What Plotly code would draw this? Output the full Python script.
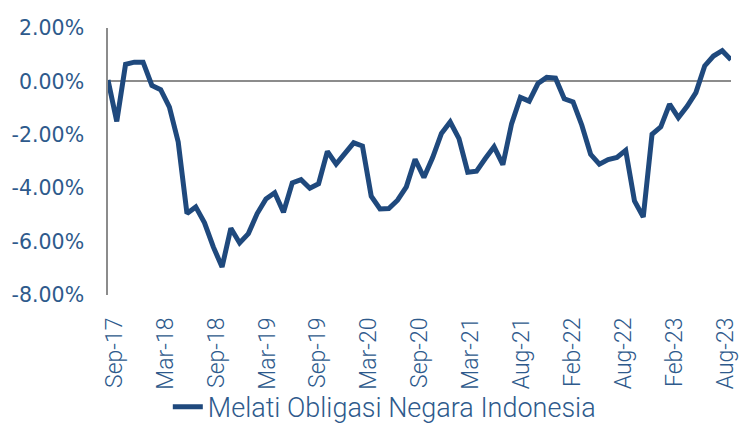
import numpy as np
import plotly.graph_objects as go

series_name = "Melati Obligasi Negara Indonesia"

returns_pct = [
    0.05, -1.50, 0.64, 0.72, 0.72, -0.15, -0.31, -0.96, -2.27, -4.95,
    -4.70, -5.30, -6.20, -6.95, -5.50, -6.05, -5.70, -4.95, -4.40, -4.17,
    -4.90, -3.80, -3.68, -4.00, -3.83, -2.62, -3.10, -2.70, -2.30, -2.42,
    -4.30, -4.78, -4.76, -4.45, -3.95, -2.92, -3.60, -2.85, -1.95, -1.52,
    -2.14, -3.40, -3.36, -2.89, -2.45, -3.12, -1.58, -0.60, -0.74, -0.08,
    0.15, 0.12, -0.65, -0.77, -1.64, -2.73, -3.10, -2.93, -2.85, -2.58,
    -4.48, -5.08, -1.98, -1.70, -0.85, -1.36, -0.93, -0.42, 0.58, 0.95,
    1.15, 0.81,
]

tick_labels = [
    "Sep-17", "Mar-18", "Sep-18", "Mar-19", "Sep-19", "Mar-20", "Sep-20",
    "Mar-21", "Aug-21", "Feb-22", "Aug-22", "Feb-23", "Aug-23",
]

y_ticks = [2, 0, -2, -4, -6, -8]

x = list(range(len(returns_pct)))
n_last = len(returns_pct) - 1
tick_pos = [round(float(v), 4) for v in np.linspace(0.7, n_last - 0.6, len(tick_labels))]

line_color = "#1F497D"
text_color = "#2E5A8C"
axis_color = "#8C8C8C"
narrow_font = "Roboto"

fig = go.Figure()
fig.add_trace(go.Scatter(
    x=x, y=returns_pct, mode="lines", name=series_name,
    line=dict(color=line_color, width=5), cliponaxis=False,
))

fig.update_layout(
    width=739, height=423,
    margin=dict(l=108, r=8, t=28, b=128, autoexpand=False),
    paper_bgcolor="white", plot_bgcolor="white",
    showlegend=True,
    legend=dict(
        orientation="h", x=0.096, xanchor="left", y=-0.42, yanchor="middle",
        font=dict(family=narrow_font, size=27, color=text_color, weight=300),
        bgcolor="rgba(0,0,0,0)",
    ),
)

fig.update_xaxes(
    range=[0, n_last], automargin=False,
    tickmode="array", tickvals=tick_pos, ticktext=tick_labels,
    tickangle=-90, showgrid=False, showline=False, zeroline=False,
    ticks="", ticklabelstandoff=17, ticklabeloverflow="allow",
    tickfont=dict(family=narrow_font, size=23, color=text_color, weight=300),
)

fig.update_yaxes(
    range=[-8, 2], automargin=False, tickmode="array", tickvals=y_ticks,
    ticktext=[f"{v:.2f}%" for v in y_ticks],
    showgrid=False, showline=True, linecolor=axis_color, linewidth=1.5,
    zeroline=True, zerolinecolor=axis_color, zerolinewidth=1.5,
    ticks="", ticklabelstandoff=18, ticklabeloverflow="allow",
    tickfont=dict(family="DejaVu Sans", size=20.5, color=text_color),
)

fig.write_html(
    "out.html",
    config={"displayModeBar": False},
    post_script="document.body.style.margin='0';",
)
